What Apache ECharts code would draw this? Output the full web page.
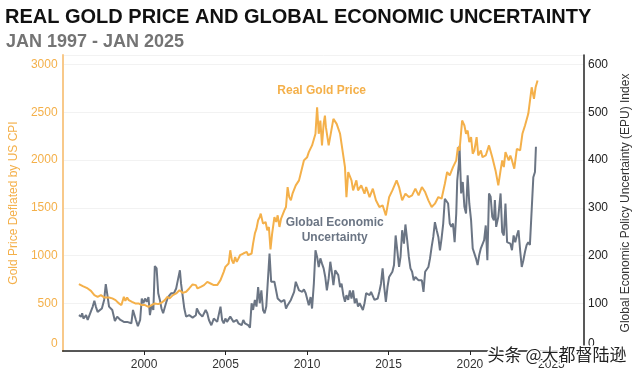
<!DOCTYPE html>
<html>
<head>
<meta charset="utf-8">
<script src="https://cdn.jsdelivr.net/npm/echarts@6/dist/echarts.min.js"></script>
<style>
html,body{margin:0;padding:0;background:#fff;}
#c{width:640px;height:372px;}
</style>
</head>
<body>
<div id="c"></div>
<script>
// ---- data (decimal year, value) ----
const goldYears = [1996.00,1996.24,1996.54,1996.74,1996.95,1997.15,1997.35,1997.55,1997.85,1998.05,1998.25,1998.46,1998.61,1998.76,1998.85,1998.96,1999.06,1999.26,1999.46,1999.66,1999.86,2000.06,2000.27,2000.46,2000.66,2000.87,2001.07,2001.27,2001.43,2001.57,2001.77,2001.97,2002.17,2002.38,2002.58,2002.77,2002.98,2003.18,2003.28,2003.48,2003.68,2003.88,2004.08,2004.28,2004.49,2004.69,2004.89,2004.99,2005.19,2005.29,2005.39,2005.49,2005.59,2005.69,2005.79,2005.89,2006.09,2006.30,2006.39,2006.60,2006.69,2006.80,2006.90,2007.00,2007.10,2007.16,2007.30,2007.46,2007.56,2007.66,2007.76,2007.86,2008.00,2008.11,2008.20,2008.31,2008.41,2008.61,2008.71,2008.81,2008.91,2009.01,2009.11,2009.31,2009.51,2009.61,2009.81,2010.01,2010.11,2010.31,2010.42,2010.52,2010.62,2010.72,2010.82,2010.92,2011.02,2011.10,2011.16,2011.33,2011.62,2011.82,2012.03,2012.12,2012.33,2012.42,2012.53,2012.73,2012.83,2013.03,2013.13,2013.33,2013.53,2013.63,2013.84,2014.04,2014.23,2014.44,2014.64,2014.84,2015.04,2015.24,2015.50,2015.65,2015.84,2016.04,2016.25,2016.45,2016.65,2016.85,2017.05,2017.25,2017.45,2017.65,2017.85,2018.06,2018.26,2018.46,2018.60,2018.76,2018.96,2019.16,2019.26,2019.36,2019.52,2019.66,2019.76,2019.86,2019.96,2020.07,2020.17,2020.27,2020.41,2020.51,2020.67,2020.77,2020.97,2021.07,2021.17,2021.37,2021.57,2021.74,2021.88,2021.98,2022.08,2022.18,2022.38,2022.48,2022.58,2022.72,2022.88,2023.08,2023.22,2023.38,2023.48,2023.58,2023.79,2023.93,2024.03,2024.15];
const goldValues = [700,679,655,630,585,567,585,561,561,551,533,498,481,567,526,561,533,515,498,498,481,481,463,481,498,491,505,533,567,551,585,603,637,609,620,655,697,690,655,672,690,724,707,690,690,742,829,881,916,1055,951,916,985,933,916,1003,1021,1038,1003,1021,1125,1230,1282,1369,1403,1439,1334,1351,1264,1299,1063,1230,1403,1351,1421,1299,1387,1473,1508,1717,1612,1578,1648,1735,1787,1857,1996,2030,2083,2153,2135,2275,2553,2275,2414,2153,2379,2466,2344,2153,2431,2379,2275,2170,1926,1612,1874,1787,1682,1787,1682,1735,1648,1717,1612,1700,1578,1508,1526,1421,1612,1682,1787,1717,1578,1648,1612,1630,1700,1630,1717,1665,1578,1508,1543,1612,1595,1752,1874,1839,1926,1996,2135,2100,2414,2362,2275,2309,2187,2240,2066,2100,2240,2048,2100,2030,2048,2030,2153,2030,1891,1735,1891,1996,1926,2083,1996,2048,1996,1909,2118,2100,2275,2362,2362,2484,2762,2641,2762,2832];

const epuYears = [1996.00,1996.14,1996.20,1996.28,1996.44,1996.54,1996.65,1996.85,1996.95,1997.04,1997.15,1997.25,1997.41,1997.55,1997.65,1997.75,1997.85,1997.95,1998.05,1998.21,1998.35,1998.46,1998.55,1998.66,1998.76,1998.85,1998.96,1999.06,1999.22,1999.32,1999.42,1999.50,1999.62,1999.76,1999.86,1999.96,2000.06,2000.16,2000.27,2000.36,2000.46,2000.57,2000.66,2000.77,2000.87,2000.97,2001.07,2001.17,2001.27,2001.37,2001.47,2001.67,2001.83,2001.97,2002.07,2002.20,2002.27,2002.38,2002.47,2002.58,2002.77,2002.98,2003.18,2003.24,2003.38,2003.58,2003.78,2003.88,2003.98,2004.13,2004.28,2004.49,2004.69,2004.79,2004.89,2004.99,2005.09,2005.19,2005.29,2005.39,2005.49,2005.59,2005.69,2005.79,2005.89,2005.99,2006.09,2006.19,2006.30,2006.39,2006.50,2006.60,2006.69,2006.80,2006.90,2007.00,2007.10,2007.20,2007.30,2007.40,2007.50,2007.60,2007.70,2007.80,2007.90,2008.00,2008.11,2008.20,2008.31,2008.41,2008.50,2008.61,2008.71,2008.81,2008.91,2009.01,2009.11,2009.21,2009.31,2009.41,2009.51,2009.61,2009.71,2009.81,2009.92,2010.01,2010.11,2010.22,2010.31,2010.42,2010.52,2010.62,2010.72,2010.82,2010.92,2011.02,2011.12,2011.22,2011.33,2011.43,2011.52,2011.62,2011.73,2011.82,2011.92,2012.03,2012.12,2012.23,2012.33,2012.42,2012.53,2012.63,2012.73,2012.83,2012.93,2013.03,2013.13,2013.23,2013.33,2013.43,2013.53,2013.63,2013.73,2013.84,2013.93,2014.04,2014.14,2014.23,2014.34,2014.44,2014.54,2014.64,2014.74,2014.84,2014.94,2015.04,2015.14,2015.24,2015.34,2015.44,2015.54,2015.65,2015.74,2015.84,2015.95,2016.04,2016.15,2016.25,2016.35,2016.45,2016.55,2016.65,2016.75,2016.85,2016.95,2017.05,2017.15,2017.25,2017.35,2017.45,2017.55,2017.65,2017.75,2017.85,2017.96,2018.06,2018.16,2018.26,2018.36,2018.46,2018.56,2018.66,2018.76,2018.86,2018.96,2019.06,2019.16,2019.22,2019.32,2019.36,2019.46,2019.56,2019.66,2019.76,2019.86,2019.96,2020.07,2020.17,2020.27,2020.37,2020.47,2020.57,2020.67,2020.77,2020.87,2020.97,2021.07,2021.17,2021.27,2021.37,2021.47,2021.53,2021.61,2021.74,2021.88,2021.98,2022.08,2022.18,2022.28,2022.38,2022.48,2022.58,2022.68,2022.78,2022.88,2022.98,2023.08,2023.18,2023.28,2023.38,2023.48,2023.58,2023.68,2023.79,2023.89,2023.99,2024.05];
const epuValues = [75,72,79,68,75,65,63,93,105,93,82,80,89,107,140,117,93,96,86,63,72,68,65,68,61,65,61,58,58,86,89,65,52,65,110,100,110,103,113,75,96,86,178,173,121,107,89,79,79,103,113,121,121,131,148,169,141,113,89,72,75,70,75,89,79,72,86,79,65,54,68,61,93,65,58,68,61,65,72,68,61,58,65,58,58,54,65,58,54,54,49,100,86,107,93,134,100,127,86,79,93,93,204,145,145,145,141,110,107,103,100,107,89,96,100,107,110,124,145,141,127,131,124,129,121,124,96,113,89,141,211,197,176,194,183,173,155,127,152,187,166,138,169,166,159,134,141,117,103,117,107,127,110,127,100,110,93,100,96,86,100,121,124,117,124,127,107,103,110,124,141,173,134,103,134,155,155,166,180,242,239,176,197,253,225,265,232,197,173,166,148,155,152,148,152,148,124,166,169,176,194,218,239,270,253,239,211,236,267,319,316,309,267,260,267,228,288,357,392,430,330,354,302,288,368,309,274,215,211,194,180,201,215,211,232,263,190,330,323,281,274,316,260,281,330,249,242,309,228,228,225,211,242,228,242,253,211,176,190,208,222,228,222,222,364,375,428];

const xTickYears = [2000, 2005, 2010, 2015, 2020, 2025];
const goldTicks = [0, 500, 1000, 1500, 2000, 2500, 3000];
const epuTicks = [0, 100, 200, 300, 400, 500, 600];

const titleText = 'REAL GOLD PRICE AND GLOBAL ECONOMIC UNCERTAINTY';
const subtitleText = 'JAN 1997 - JAN 2025';
const goldName = 'Real Gold Price';
const epuName = 'Global Economic\nUncertainty';
const leftAxisName = 'Gold Price Deflated by US CPI';
const rightAxisName = 'Global Economic Policy Uncertainty (EPU) Index';
const watermark = '头条 @大都督陆逊';

const GOLD = '#F4B04A';
const GRAY = '#6B7584';
const FONT = '"Liberation Sans", Arial, sans-serif';

const goldData = goldYears.map((y, i) => [y, goldValues[i]]);
const epuData = epuYears.map((y, i) => [y, epuValues[i]]);

const chart = echarts.init(document.getElementById('c'), null, {renderer: 'canvas'});

const option = {
  animation: false,
  backgroundColor: '#fff',
  textStyle: {fontFamily: FONT},
  title: [
    {text: titleText, left: 5, top: 7, padding: 0,
     textStyle: {fontSize: 20, fontWeight: 'bold', color: '#111', fontFamily: FONT}},
    {text: subtitleText, left: 6, top: 33, padding: 0,
     textStyle: {fontSize: 18, fontWeight: 'bold', color: '#747474', fontFamily: FONT}}
  ],
  grid: {left: 55, right: 55, top: 55, bottom: 21, containLabel: false},
  xAxis: {
    type: 'value', min: 1995, max: 2027, interval: 5,
    axisLine: {lineStyle: {color: '#222', width: 1.5}},
    axisTick: {show: true, length: 4, lineStyle: {color: '#222'}},
    splitLine: {show: false},
    axisLabel: {
      showMinLabel: false, showMaxLabel: false, margin: 8,
      color: '#333', fontSize: 12, fontFamily: FONT,
      formatter: v => (xTickYears.indexOf(v) >= 0 ? String(v) : '')
    }
  },
  yAxis: [
    {
      type: 'value', min: 0, max: 3100, interval: 500, position: 'left',
      name: leftAxisName, nameLocation: 'middle', nameGap: 37,
      nameTextStyle: {color: GOLD, fontSize: 12, fontFamily: FONT},
      axisLine: {show: true, lineStyle: {color: '#F8C98A', width: 2}},
      axisTick: {show: false},
      splitLine: {show: true, lineStyle: {color: '#F2F2F2', width: 1}},
      axisLabel: {
        color: GOLD, fontSize: 12, margin: 5, fontFamily: FONT, showMaxLabel: false,
        formatter: v => (v === 0 ? '{z|0}' : (goldTicks.indexOf(v) >= 0 ? String(v) : '')),
        rich: {z: {color: GOLD, fontSize: 12, fontFamily: FONT, padding: [0, 0, 14, 0]}}
      }
    },
    {
      type: 'value', min: 0, max: 620, interval: 100, position: 'right',
      name: rightAxisName, nameLocation: 'middle', nameGap: 36,
      nameTextStyle: {color: '#333', fontSize: 12, fontFamily: FONT},
      axisLine: {show: true, lineStyle: {color: '#222', width: 1.5}},
      axisTick: {show: false},
      splitLine: {show: false},
      axisLabel: {
        color: '#222', fontSize: 12, margin: 4, fontFamily: FONT, showMaxLabel: false,
        formatter: v => (v === 0 ? '{z|0}' : (epuTicks.indexOf(v) >= 0 ? String(v) : '')),
        rich: {z: {color: '#222', fontSize: 12, fontFamily: FONT, padding: [0, 0, 14, 0]}}
      }
    }
  ],
  series: [
    {
      name: 'EPU', type: 'line', yAxisIndex: 1, data: epuData,
      showSymbol: false, symbol: 'none', z: 2,
      lineStyle: {color: GRAY, width: 2}
    },
    {
      name: 'Gold', type: 'line', yAxisIndex: 0, data: goldData,
      showSymbol: false, symbol: 'none', z: 3,
      lineStyle: {color: GOLD, width: 2}
    }
  ]
};
chart.setOption(option);

// annotation labels positioned through the chart's own coordinate system
const pGold = chart.convertToPixel({gridIndex: 0}, [2010.9, 2730]);
const pEpu = chart.convertToPixel({gridIndex: 0}, [2011.7, 1270]);
chart.setOption({
  graphic: [
    {type: 'text', x: pGold[0], y: pGold[1], z: 10,
     style: {text: goldName, fill: GOLD, font: 'bold 12px ' + FONT, textAlign: 'center', textVerticalAlign: 'middle'}},
    {type: 'text', x: pEpu[0], y: pEpu[1], z: 10,
     style: {text: epuName, fill: GRAY, font: 'bold 12px ' + FONT, textAlign: 'center', textVerticalAlign: 'middle', lineHeight: 15}},
    {type: 'text', right: 12, bottom: 7, z: 20,
     style: {text: watermark, fill: '#222', font: '17px "Noto Sans CJK SC", sans-serif', stroke: '#fff', lineWidth: 3}}
  ]
});
</script>
</body>
</html>
